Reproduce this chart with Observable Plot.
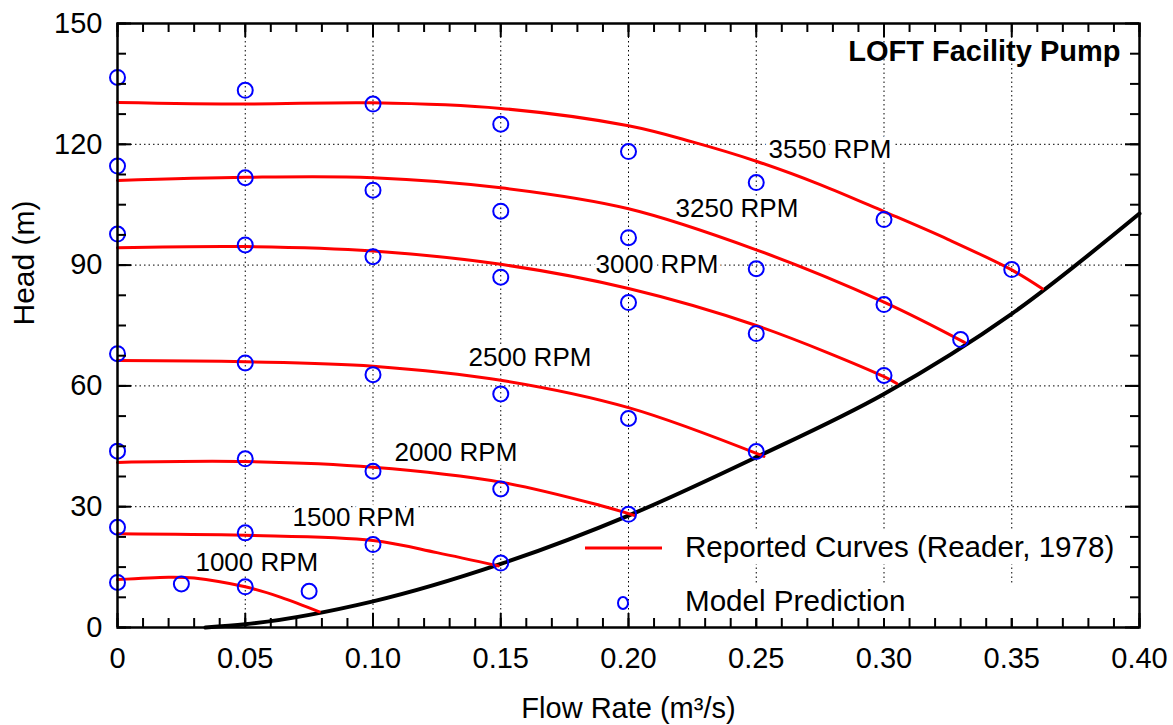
<!DOCTYPE html>
<html>
<head>
<meta charset="utf-8">
<script src="https://cdn.jsdelivr.net/npm/d3@7"></script>
<script src="https://cdn.jsdelivr.net/npm/@observablehq/plot@0.6"></script>
<style>
  html, body { margin: 0; padding: 0; background: #fff; }
  #wrap { position: relative; width: 1173px; height: 725px; font-family: "Liberation Sans", Arial, sans-serif; }
  .leg { position: absolute; background: #fff; font-size: 29.6px; line-height: 34px; color: #000; white-space: nowrap; }
</style>
</head>
<body>
<div id="wrap"></div>
<script>
// ---- Data ----
const speedLabels = ["3550 RPM", "3250 RPM", "3000 RPM", "2500 RPM", "2000 RPM", "1500 RPM", "1000 RPM"];
// label anchor positions [flow, head]
const labelPos = [[0.2548, 118.6], [0.2184, 104.0], [0.1871, 90.1], [0.1374, 66.9], [0.1084, 43.5], [0.0685, 27.2], [0.0305, 16.1]];

// Reported curves (Reader, 1978): [flow m3/s, head m]
const reported3550 = [[0, 130.4], [0.05, 130.0], [0.10, 130.3], [0.15, 128.9], [0.20, 124.6], [0.225, 120.6], [0.25, 115.8], [0.275, 110.0], [0.30, 103.3], [0.325, 96.4], [0.35, 88.8], [0.362, 84.1]];
const reported3250 = [[0, 111.0], [0.05, 111.8], [0.10, 111.7], [0.15, 109.2], [0.20, 104.0], [0.25, 93.8], [0.30, 80.8], [0.3315, 70.8]];
const reported3000 = [[0, 94.3], [0.05, 94.6], [0.10, 93.5], [0.15, 90.2], [0.20, 84.2], [0.25, 75.0], [0.30, 62.3], [0.305, 60.6]];
const reported2500 = [[0, 66.3], [0.05, 66.0], [0.10, 64.9], [0.15, 61.4], [0.20, 54.6], [0.253, 42.5]];
const reported2000 = [[0, 41.0], [0.05, 41.2], [0.10, 39.8], [0.15, 36.1], [0.189, 30.3], [0.2025, 27.8]];
const reported1500 = [[0, 23.3], [0.05, 22.9], [0.10, 21.6], [0.125, 18.6], [0.149, 15.3]];
const reported1000 = [[0, 11.9], [0.02, 12.5], [0.03, 12.3], [0.05, 10.1], [0.064, 7.5], [0.079, 3.9]];

// Model prediction points: [flow, head]
const model3550 = [[0, 136.6], [0.05, 133.4], [0.10, 130.0], [0.15, 125.0], [0.20, 118.2], [0.25, 110.5], [0.30, 101.3], [0.35, 88.9]];
const model3250 = [[0, 114.6], [0.05, 111.7], [0.10, 108.6], [0.15, 103.4], [0.20, 96.8], [0.25, 89.1], [0.30, 80.2], [0.33, 71.5]];
const model3000 = [[0, 97.7], [0.05, 95.0], [0.10, 92.1], [0.15, 87.0], [0.20, 80.7], [0.25, 73.0], [0.30, 62.6]];
const model2500 = [[0, 68.0], [0.05, 65.7], [0.10, 62.8], [0.15, 58.0], [0.20, 51.9], [0.25, 43.7]];
const model2000 = [[0, 43.8], [0.05, 41.9], [0.10, 38.8], [0.15, 34.4], [0.20, 28.1]];
const model1500 = [[0, 24.9], [0.05, 23.5], [0.10, 20.6], [0.15, 16.0]];
const model1000 = [[0, 11.2], [0.025, 10.8], [0.05, 10.1], [0.075, 9.0]];

// System (facility) resistance curve
const systemCurve = [[0.0344, 0], [0.05, 0.8], [0.10, 6.5], [0.15, 15.8], [0.20, 27.8], [0.25, 42.3], [0.30, 58.0], [0.35, 77.9], [0.40, 102.8]];

// Axis ticks
const xMajor = [0, 0.05, 0.10, 0.15, 0.20, 0.25, 0.30, 0.35, 0.40];
const xTickLabels = ["0", "0.05", "0.10", "0.15", "0.20", "0.25", "0.30", "0.35", "0.40"];
const yMajor = [0, 30, 60, 90, 120, 150];
const yTickLabels = ["0", "30", "60", "90", "120", "150"];

// ---- Build tables ----
const reportedSets = [reported3550, reported3250, reported3000, reported2500, reported2000, reported1500, reported1000];
const modelSets = [model3550, model3250, model3000, model2500, model2000, model1500, model1000];
const reportedTable = reportedSets.flatMap((s, i) => s.map(([q, h]) => ({q, h, speed: speedLabels[i]})));
const modelTable = modelSets.flatMap((s, i) => s.map(([q, h]) => ({q, h, speed: speedLabels[i]})));
const labelTable = speedLabels.map((t, i) => ({q: labelPos[i][0], h: labelPos[i][1], t}));
const systemTable = systemCurve.map(([q, h]) => ({q, h}));

const xMinor = d3.range(0, 0.4001, 0.01);
const yMinor = d3.range(0, 150.01, 7.5);

const W = 1173, H = 725;
const mL = 117, mR = 34, mT = 23, mB = 98;
const fw = W - mL - mR, fh = H - mT - mB;
const FONT = "Liberation Sans, Arial, sans-serif";

const chart = Plot.plot({
  width: W, height: H,
  marginLeft: mL, marginRight: mR, marginTop: mT, marginBottom: mB,
  style: {fontFamily: FONT, fontSize: "29px", color: "black", background: "white"},
  x: {domain: [0, 0.4], ticks: xMajor, tickFormat: d => xTickLabels[Math.round(d * 20)], tickSize: 0, tickPadding: 20, label: null},
  y: {domain: [0, 150], ticks: yMajor, tickFormat: d => yTickLabels[Math.round(d / 30)], tickSize: 0, tickPadding: 15, label: null},
  marks: [
    // dotted grid
    Plot.ruleX(xMajor.slice(1, -1), {stroke: "black", strokeWidth: 1, strokeDasharray: "1.5,3"}),
    Plot.ruleY(yMajor.slice(1, -1), {stroke: "black", strokeWidth: 1, strokeDasharray: "1.5,3"}),
    // system curve
    Plot.line(systemTable, {x: "q", y: "h", stroke: "black", strokeWidth: 4, curve: "monotone-x"}),
    // reported curves
    Plot.line(reportedTable, {x: "q", y: "h", z: "speed", stroke: "#ff0000", strokeWidth: 3, curve: "catmull-rom"}),
    // model points
    Plot.dot(modelTable, {x: "q", y: "h", r: 7.5, stroke: "#0000ff", strokeWidth: 2, fill: "none"}),
    // speed labels
    Plot.text(labelTable, {x: "q", y: "h", text: "t", textAnchor: "start", lineAnchor: "middle", fontSize: 26, fill: "black", stroke: "white", strokeWidth: 8, fontFamily: FONT}),
    // title
    Plot.text(["LOFT Facility Pump"], {frameAnchor: "top-right", lineAnchor: "middle", dx: -19, dy: 28, textAnchor: "end", fontSize: 29, fontWeight: "bold", fill: "black", fontFamily: FONT}),
    // axis titles
    Plot.text(["Flow Rate (m³/s)"], {frameAnchor: "bottom", lineAnchor: "middle", dy: 81, fontSize: 29, fill: "black", fontFamily: FONT}),
    Plot.text(["Head (m)"], {frameAnchor: "left", lineAnchor: "middle", dx: -93, rotate: -90, fontSize: 30, fill: "black", fontFamily: FONT}),
    // inward ticks: major
    Plot.ruleX(xMajor, {insetTop: fh - 14, stroke: "black", strokeWidth: 2}),
    Plot.ruleX(xMajor, {insetBottom: fh - 14, stroke: "black", strokeWidth: 2}),
    Plot.ruleY(yMajor, {insetRight: fw - 14, stroke: "black", strokeWidth: 2}),
    Plot.ruleY(yMajor, {insetLeft: fw - 14, stroke: "black", strokeWidth: 2}),
    // inward ticks: minor
    Plot.ruleX(xMinor, {insetTop: fh - 9, stroke: "black", strokeWidth: 2}),
    Plot.ruleX(xMinor, {insetBottom: fh - 9, stroke: "black", strokeWidth: 2}),
    Plot.ruleY(yMinor, {insetRight: fw - 9, stroke: "black", strokeWidth: 2}),
    Plot.ruleY(yMinor, {insetLeft: fw - 9, stroke: "black", strokeWidth: 2}),
    Plot.frame({stroke: "black", strokeWidth: 2.5})
  ]
});

const wrap = document.getElementById("wrap");
wrap.appendChild(chart);

// ---- Legend (inside the plot, lower right) ----
const legendItems = ["Reported Curves (Reader, 1978)", "Model Prediction"];
const l1 = document.createElement("div");
l1.className = "leg";
l1.style.left = "685px"; l1.style.top = "530px";
l1.textContent = legendItems[0];
wrap.appendChild(l1);
const l2 = document.createElement("div");
l2.className = "leg";
l2.style.left = "685px"; l2.style.top = "584px"; l2.style.width = "436px";
l2.textContent = legendItems[1];
wrap.appendChild(l2);
const ns = "http://www.w3.org/2000/svg";
const ls = document.createElementNS(ns, "svg");
ls.setAttribute("width", "90"); ls.setAttribute("height", "80");
ls.style.position = "absolute"; ls.style.left = "580px"; ls.style.top = "530px";
ls.innerHTML = '<line x1="5" y1="18" x2="82" y2="18" stroke="#ff0000" stroke-width="3"/>' +
  '<ellipse cx="43" cy="73" rx="5" ry="6" fill="none" stroke="#0000ff" stroke-width="2"/>';
wrap.appendChild(ls);
</script>
</body>
</html>
